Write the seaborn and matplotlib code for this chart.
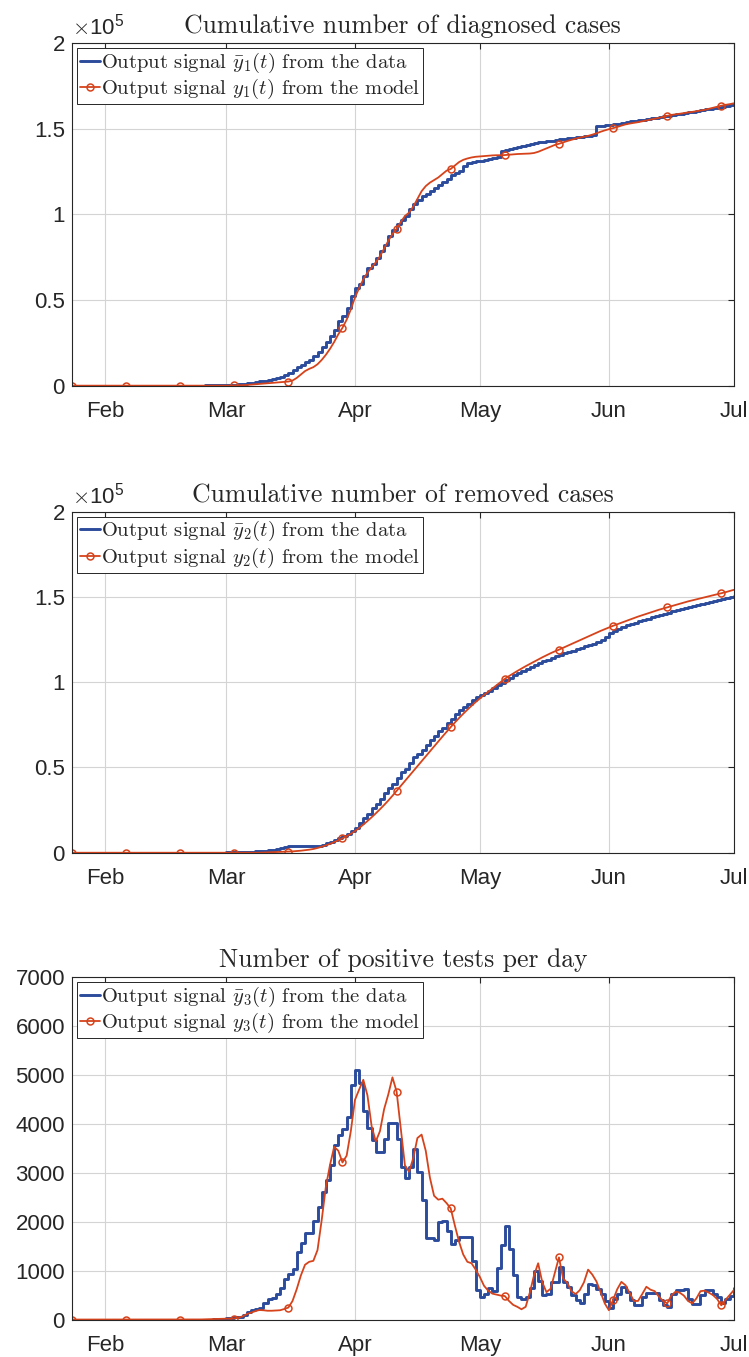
import pandas as pd
import seaborn as sns
import matplotlib.pyplot as plt
import matplotlib.dates as mdates
from matplotlib.ticker import FuncFormatter, MultipleLocator

sns.set_style("whitegrid")
plt.rcParams['font.family'] = ['Liberation Sans', 'DejaVu Sans']
plt.rcParams['mathtext.fontset'] = 'cm'

# daily values, 24 Jan 2020 .. 1 Jul 2020 (160 days)
start_date = '2020-01-24'

# cumulative diagnosed cases (thousands)
y1_data = [
    0, 0, 0, 0, 0, 0, 0, 0, 0, 0,
    0, 0, 0, 0, 0, 0, 0, 0, 0, 0,
    0, 0, 0, 0, 0, 0, 0, 0, 0, 0,
    0, 0.05, 0.1, 0.1, 0.15, 0.2, 0.2, 0.25, 0.4, 0.6,
    0.8, 1.1, 1.4, 1.7, 2.1, 2.5, 2.9, 3.5, 3.9, 4.7,
    5.3, 6.3, 7.2, 9.2, 10.6, 12.1, 13.6, 15.0, 17.4, 19.9,
    22.4, 25.2, 29.1, 32.6, 38.0, 40.4, 45.2, 52.1, 56.9, 59.5,
    64.2, 68.6, 71.2, 74.5, 78.4, 82.3, 87.2, 91.1, 94.4, 96.9,
    98.9, 103.4, 106.3, 108.6, 110.6, 112.1, 113.5, 115.4, 117.4, 118.8,
    120.7, 122.7, 124.2, 125.2, 128.5, 130.1, 130.3, 131.0, 131.3, 131.8,
    132.3, 132.9, 133.5, 137.0, 137.8, 138.3, 138.8, 139.5, 140.0, 140.5,
    141.0, 141.5, 142.0, 142.3, 142.6, 143.0, 143.4, 143.7, 144.0, 144.3,
    144.6, 144.9, 145.2, 145.5, 145.8, 146.3, 151.5, 151.8, 152.0, 152.2,
    152.5, 153.0, 153.4, 153.8, 154.2, 154.6, 155.0, 155.3, 155.6, 156.0,
    156.4, 156.8, 157.2, 157.6, 158.0, 158.4, 158.8, 159.2, 159.6, 160.0,
    160.4, 160.8, 161.2, 161.6, 162.0, 162.3, 162.6, 163.0, 163.6, 164.5,
]
y1_model = [
    0, 0, 0, 0, 0, 0, 0, 0, 0, 0,
    0, 0, 0, 0, 0, 0, 0, 0, 0, 0,
    0, 0, 0, 0, 0, 0, 0, 0, 0, 0,
    0, 0, 0, 0, 0, 0, 0, 0, 0, 0.1,
    0.2, 0.3, 0.4, 0.6, 0.8, 1.0, 1.2, 1.4, 1.6, 1.8,
    2.0, 2.2, 2.4, 3.0, 4.5, 6.5, 8.5, 9.8, 10.8, 12.5,
    15.0, 18.0, 21.5, 25.5, 30.0, 33.8, 38.5, 44.5, 51.5, 57.0,
    62.0, 66.0, 69.0, 72.0, 75.5, 80.0, 84.5, 88.5, 91.5, 95.5,
    99.0, 101.0, 104.5, 109.0, 113.5, 116.5, 118.5, 120.0, 121.5, 123.5,
    125.5, 126.5, 128.5, 130.5, 131.8, 132.6, 133.2, 133.6, 133.8, 134.0,
    134.2, 134.4, 134.5, 134.5, 134.6, 134.8, 135.0, 135.2, 135.3, 135.4,
    135.5, 135.8, 136.5, 137.5, 138.5, 139.5, 140.5, 141.2, 142.0, 142.8,
    143.5, 144.2, 144.8, 145.3, 145.8, 146.5, 147.3, 148.2, 149.0, 149.7,
    150.3, 151.0, 151.8, 152.5, 153.0, 153.4, 153.8, 154.3, 154.8, 155.3,
    155.8, 156.3, 156.9, 157.5, 158.0, 158.4, 158.7, 159.1, 159.5, 159.8,
    160.2, 160.6, 161.0, 161.6, 162.2, 162.8, 163.4, 163.9, 164.3, 164.8,
]

# cumulative removed cases (thousands)
y2_data = [
    0, 0, 0, 0, 0, 0, 0, 0, 0, 0,
    0, 0, 0, 0, 0, 0, 0, 0, 0, 0,
    0, 0, 0, 0, 0, 0, 0, 0, 0, 0,
    0, 0, 0, 0, 0, 0, 0.1, 0.2, 0.3, 0.4,
    0.45, 0.5, 0.6, 0.7, 0.8, 1.0, 1.2, 1.4, 1.6, 2.0,
    2.6, 3.3, 3.8, 3.9, 3.9, 3.9, 3.9, 3.9, 4.0, 4.2,
    4.8, 5.5, 6.5, 7.4, 8.6, 9.8, 11.2, 12.6, 14.3, 17.2,
    20.1, 23.0, 26.0, 28.5, 31.6, 34.8, 37.7, 40.6, 43.9, 47.1,
    49.4, 52.7, 55.9, 58.2, 60.5, 63.1, 66.0, 68.4, 71.5, 73.4,
    76.2, 78.7, 81.2, 83.6, 85.5, 87.5, 89.8, 91.4, 92.3, 93.6,
    95.0, 96.6, 98.2, 99.8, 101.2, 102.7, 104.0, 105.5, 106.8, 108.0,
    109.2, 110.2, 111.3, 112.3, 113.3, 114.3, 115.2, 116.1, 117.0, 117.8,
    118.6, 119.4, 120.2, 121.0, 121.8, 122.6, 123.4, 124.8, 126.6, 128.6,
    130.2, 131.4, 132.4, 133.3, 134.1, 134.9, 135.7, 136.5, 137.3, 138.0,
    138.7, 139.4, 140.1, 140.8, 141.5, 142.2, 142.9, 143.5, 144.1, 144.7,
    145.3, 145.9, 146.5, 147.1, 147.7, 148.3, 148.9, 149.5, 150.1, 150.7,
]
y2_model = [
    0, 0, 0, 0, 0, 0, 0, 0, 0, 0,
    0, 0, 0, 0, 0, 0, 0, 0, 0, 0,
    0, 0, 0, 0, 0, 0, 0, 0, 0, 0,
    0, 0, 0, 0, 0, 0, 0, 0, 0, 0,
    0, 0, 0, 0, 0, 0, 0.1, 0.2, 0.3, 0.4,
    0.5, 0.55, 0.7, 0.8, 1.0, 1.2, 1.5, 1.8, 2.2, 2.8,
    3.5, 4.3, 5.2, 6.2, 7.3, 8.4, 9.7, 11.1, 12.7, 14.5,
    16.5, 18.6, 20.8, 23.1, 25.5, 28.0, 30.6, 33.4, 36.3, 39.2,
    42.1, 45.0, 47.9, 50.8, 53.7, 56.6, 59.5, 62.4, 65.3, 68.1,
    70.9, 73.7, 76.4, 79.0, 81.5, 83.9, 86.2, 88.4, 90.5, 92.5,
    94.4, 96.3, 98.2, 100.1, 102.0, 103.6, 105.1, 106.6, 108.0, 109.4,
    110.7, 112.0, 113.3, 114.6, 115.8, 117.0, 118.1, 119.1, 120.2, 121.3,
    122.4, 123.5, 124.6, 125.7, 126.8, 127.9, 129.0, 130.1, 131.1, 132.1,
    133.1, 134.0, 134.9, 135.8, 136.7, 137.6, 138.5, 139.3, 140.1, 140.9,
    141.7, 142.5, 143.2, 143.9, 144.6, 145.3, 146.0, 146.7, 147.4, 148.0,
    148.6, 149.2, 149.8, 150.4, 151.0, 151.6, 152.2, 152.8, 153.5, 154.2,
]

# positive tests per day
y3_data = [
    0, 0, 0, 0, 0, 0, 0, 0, 0, 0,
    0, 0, 0, 0, 0, 0, 0, 0, 0, 0,
    0, 0, 0, 0, 0, 0, 0, 0, 0, 0,
    0, 0, 0, 0, 5, 10, 15, 30, 40, 50,
    60, 90, 160, 190, 225, 240, 330, 410, 440, 530,
    650, 820, 930, 1040, 1390, 1570, 1760, 1770, 2020, 2300,
    2610, 2850, 3160, 3570, 3770, 3890, 4130, 4790, 5100, 4840,
    4260, 3910, 3670, 3430, 3430, 3680, 4010, 4010, 3690, 3120,
    2900, 3120, 3480, 3010, 2440, 1660, 1660, 1620, 2000, 2010,
    1810, 1540, 1620, 1690, 1690, 1690, 1200, 600, 460, 530,
    650, 590, 1060, 1520, 1910, 1450, 920, 460, 410, 460,
    650, 990, 790, 500, 520, 770, 770, 1080, 770, 670,
    500, 400, 340, 520, 720, 700, 630, 520, 380, 230,
    430, 530, 670, 570, 400, 290, 290, 470, 550, 550,
    550, 400, 290, 250, 530, 600, 600, 620, 430, 310,
    310, 500, 600, 600, 530, 470, 340, 410, 480, 650,
]
y3_model = [
    0, 0, 0, 0, 0, 0, 0, 0, 0, 0,
    0, 0, 0, 0, 0, 0, 0, 0, 0, 0,
    0, 0, 0, 0, 0, 0, 0, 0, 0, 0,
    0, 2, 4, 7, 10, 13, 16, 20, 20, 20,
    40, 65, 110, 140, 170, 195, 190, 180, 180, 185,
    190, 215, 245, 380, 620, 900, 1120, 1180, 1200, 1420,
    2030, 2710, 3160, 3530, 3450, 3210, 3350, 3850, 4490, 4700,
    4900, 4580, 3950, 3640, 3850, 4300, 4600, 4950, 4660, 3900,
    3150, 3020, 3300, 3710, 3780, 3450, 2900, 2530, 2450, 2470,
    2380, 2270, 1920, 1590, 1330, 1180, 1150, 1020, 870, 690,
    590, 530, 510, 490, 480, 380, 300, 260, 210, 260,
    550, 900, 1150, 760, 560, 630, 950, 1270, 840, 750,
    580, 520, 600, 760, 1020, 920, 780, 560, 330, 190,
    400, 620, 770, 700, 540, 380, 380, 520, 670, 610,
    580, 470, 380, 330, 490, 570, 550, 490, 380, 330,
    430, 580, 590, 550, 500, 420, 290, 400, 500, 600,
]

titles = ['Cumulative number of diagnosed cases',
          'Cumulative number of removed cases',
          'Number of positive tests per day']

dates = pd.date_range(start_date, periods=len(y3_data), freq='D')

BLUE = '#2b4b9b'
RED = '#d6431b'
EDGE = '#262626'

panels = [
    (pd.Series(y1_data) * 1000, pd.Series(y1_model) * 1000, 1, 2e5, 5e4, True),
    (pd.Series(y2_data) * 1000, pd.Series(y2_model) * 1000, 2, 2e5, 5e4, True),
    (pd.Series(y3_data), pd.Series(y3_model), 3, 7000, 1000, False),
]
# axes boxes in figure fractions [left, bottom, width, height]
boxes = [
    [0.096, 0.7158, 0.8837, 0.2525],
    [0.096, 0.3716, 0.8837, 0.2513],
    [0.096, 0.0276, 0.8837, 0.2524],
]

fig = plt.figure(figsize=(7.49, 13.57), dpi=100)

for (data, model, k, ymax, ystep, sci), box, title in zip(panels, boxes, titles):
    ax = fig.add_axes(box)
    sns.lineplot(x=dates, y=data.values, ax=ax, color=BLUE, lw=2.1,
                 drawstyle='steps-post', errorbar=None,
                 label=r'Output signal $\bar{y}_%d(t)$ from the data' % k)
    sns.lineplot(x=dates, y=model.values, ax=ax, color=RED, lw=1.3,
                 errorbar=None, marker='o', markevery=13, ms=5,
                 mfc='none', mec=RED, mew=1.1,
                 label=r'Output signal $y_%d(t)$ from the model' % k)

    ax.set_xlim(dates[0], pd.Timestamp('2020-07-01'))
    ax.set_ylim(0, ymax)
    ax.yaxis.set_major_locator(MultipleLocator(ystep))
    ax.xaxis.set_major_locator(mdates.MonthLocator())
    ax.xaxis.set_major_formatter(mdates.DateFormatter('%b'))
    if sci:
        ax.yaxis.set_major_formatter(FuncFormatter(lambda v, p: f'{v / 1e5:g}'))
        ax.text(0.0, 1.01, r'$\times\mathregular{10^5}$', transform=ax.transAxes,
                ha='left', va='bottom', fontsize=16, color=EDGE)
    ax.set_xlabel('')
    ax.set_ylabel('')

    ax.grid(True, color='#d4d4d4', lw=0.8)
    for s in ax.spines.values():
        s.set_visible(True)
        s.set_color(EDGE)
        s.set_linewidth(0.8)
    ax.tick_params(direction='in', top=True, right=True, length=4, width=0.8,
                   color=EDGE, labelsize=16, labelcolor=EDGE)
    ax.tick_params(axis='x', pad=11)
    ax.tick_params(axis='y', pad=5)

    ax.set_title(title, family='cmr10', fontsize=18.5, pad=7)
    leg = ax.legend(loc='upper left', prop={'family': 'cmr10', 'size': 14.8},
                    frameon=True, fancybox=False, framealpha=1,
                    edgecolor=EDGE, handlelength=1.0, handletextpad=0.05,
                    borderpad=0.12, labelspacing=0.12, borderaxespad=0.25)
    leg.get_frame().set_linewidth(0.7)

fig.savefig('out.png', dpi=100)
